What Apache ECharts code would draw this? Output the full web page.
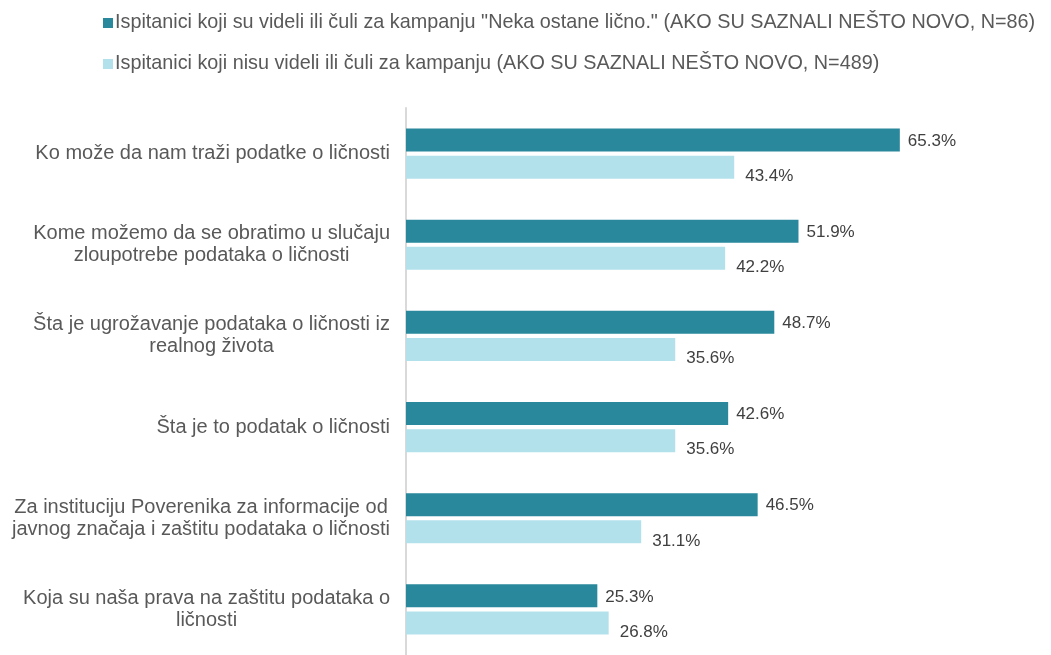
<!DOCTYPE html>
<html>
<head>
<meta charset="utf-8">
<script src="https://cdn.jsdelivr.net/npm/echarts@6/dist/echarts.min.js"></script>
<style>html,body{margin:0;padding:0;background:#fff}#c{width:1051px;height:655px}</style>
</head>
<body>
<div id="c"></div>
<script>
var categories = [
  "Ko može da nam traži podatke o ličnosti",
  "Kome možemo da se obratimo u slučaju\nzloupotrebe podataka o ličnosti",
  "Šta je ugrožavanje podataka o ličnosti iz\nrealnog života",
  "Šta je to podatak o ličnosti",
  "Za instituciju Poverenika za informacije od\njavnog značaja i zaštitu podataka o ličnosti",
  "Koja su naša prava na zaštitu podataka o\nličnosti"
];
var seriesNames = [
  "Ispitanici koji su videli ili čuli za kampanju \"Neka ostane lično.\" (AKO SU SAZNALI NEŠTO NOVO, N=86)",
  "Ispitanici koji nisu videli ili čuli za kampanju (AKO SU SAZNALI NEŠTO NOVO, N=489)"
];
var sawValues = [65.3, 51.9, 48.7, 42.6, 46.5, 25.3];
var notSawValues = [43.4, 42.2, 35.6, 35.6, 31.1, 26.8];

var chart = echarts.init(document.getElementById('c'));
var font = '"Liberation Sans", Arial, sans-serif';
chart.setOption({
  animation: false,
  textStyle: { fontFamily: font },
  legend: {
    orient: 'vertical',
    left: 98,
    top: 8,
    itemWidth: 10,
    itemHeight: 10,
    itemGap: 21,
    icon: 'rect',
    textStyle: { fontSize: 19.8, color: '#595959', fontFamily: font, padding: [0, 0, 0, -3] },
    data: seriesNames
  },
  grid: { left: 406, right: 40, top: 108, bottom: -5, containLabel: false },
  xAxis: {
    type: 'value', min: 0, max: 80,
    show: false
  },
  yAxis: {
    type: 'category',
    inverse: true,
    data: categories,
    axisLine: { show: true, lineStyle: { color: '#d9d9d9', width: 2 } },
    axisTick: { show: false },
    axisLabel: {
      margin: 16,
      align: 'right',
      fontSize: 20,
      color: '#595959',
      lineHeight: 22,
      formatter: function (v) {
        return v.split('\n').map(function (l) { return '{c|' + l + '}'; }).join('\n');
      },
      rich: { c: { align: 'center', fontSize: 20, color: '#595959', lineHeight: 22, fontFamily: font } }
    }
  },
  series: [
    {
      name: seriesNames[0], type: 'bar', data: sawValues,
      barWidth: 23, barGap: '18%',
      itemStyle: { color: '#2a889d' },
      label: { show: true, position: 'right', distance: 8, offset: [0, 1], fontSize: 17, color: '#404040', fontFamily: font,
        formatter: function (p) { return p.value.toFixed(1) + '%'; } }
    },
    {
      name: seriesNames[1], type: 'bar', data: notSawValues,
      barWidth: 23,
      itemStyle: { color: '#b3e1eb' },
      label: { show: true, position: 'right', distance: 11, offset: [0, 9], fontSize: 17, color: '#404040', fontFamily: font,
        formatter: function (p) { return p.value.toFixed(1) + '%'; } }
    }
  ]
});
</script>
</body>
</html>
